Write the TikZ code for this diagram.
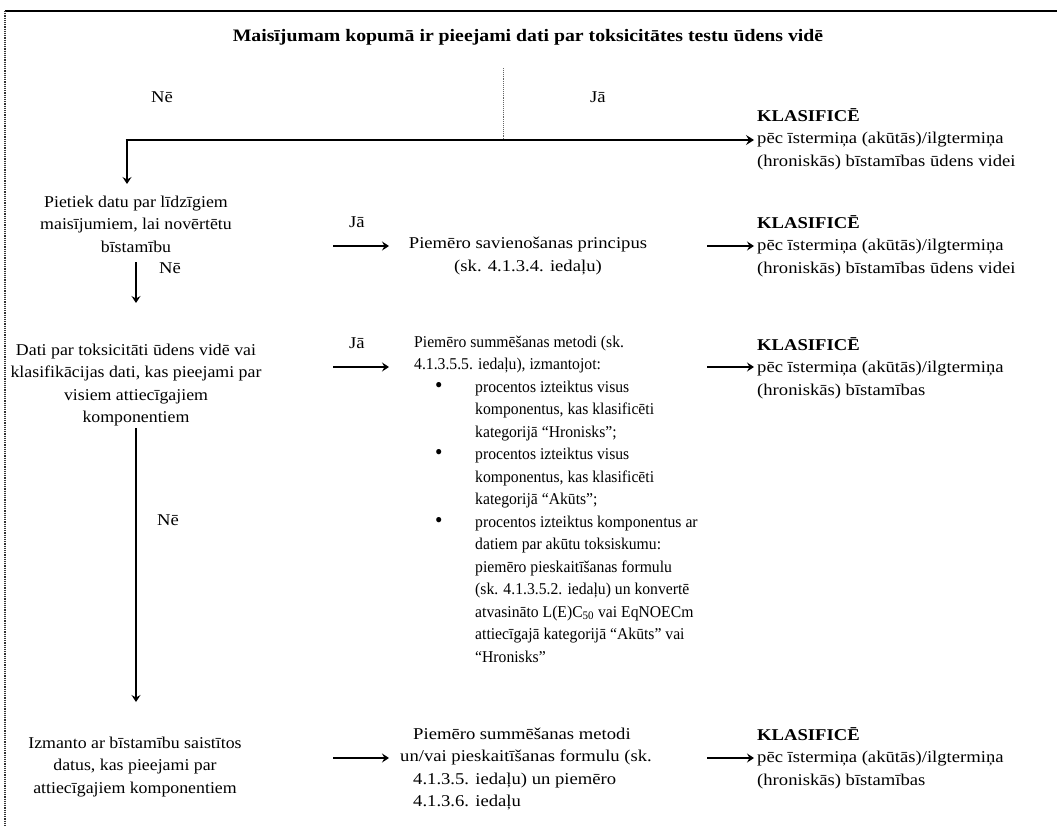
\documentclass[tikz,border=0pt]{standalone}
\usepackage{fontspec}
\setmainfont{Liberation Serif}
\newfontfamily\widefnt[FakeStretch=1.13]{Liberation Serif}
\newfontfamily\leftfnt[FakeStretch=1.08]{Liberation Serif}
\newfontfamily\narrowfnt[FakeStretch=0.95]{Liberation Serif}
\usetikzlibrary{arrows.meta,calc}
\newcommand{\mybul}{\hspace*{21pt}\makebox[40pt][l]{\scalebox{1.35}{\textbullet}}}
\newcommand{\myind}{\hspace*{61pt}}
\begin{document}
\begin{tikzpicture}[x=1pt,y=-1pt,
  txt/.style={font=\fontsize{16.5}{22.5}\selectfont\widefnt, inner sep=0pt},
  ntxt/.style={font=\fontsize{16.5}{22.5}\selectfont\narrowfnt, inner sep=0pt},
  ltxt/.style={font=\fontsize{16.5}{22.5}\selectfont\leftfnt, inner sep=0pt},
  ctr/.style={txt, align=center},
  lctr/.style={ltxt, align=center},
  lft/.style={txt, align=left, anchor=west},
  nlft/.style={ntxt, align=left, anchor=west},
  arr/.style={draw=black, line width=2pt, -{Stealth[length=7pt,width=9pt,inset=2.5pt]}},
  thickarr/.style={draw=black, line width=2.8pt, -{Stealth[length=8pt,width=10pt,inset=3pt]}},
  frame/.style={draw=black, line width=1.4pt},
  dotline/.style={draw=black!60, line width=0.9pt, densely dotted},
]
\useasboundingbox (0,0) rectangle (1057,827);
% frame
\draw[frame] (5,11) -- (1057,11);
\draw[draw=black!80, line width=1.2pt, densely dotted] (5,11) -- (5,827);

% title
\node[txt, font=\fontsize{17.5}{22.5}\selectfont\widefnt\bfseries] (title) at (528,37) {Maisījumam kopumā ir pieejami dati par toksicitātes testu ūdens vidē};
\node[txt] (ne1) at (162,97) {Nē};
\node[txt] (ja1) at (598,97) {Jā};

% left column
\node[lctr] (p1) at (136,224) {Pietiek datu par līdzīgiem\\maisījumiem, lai novērtētu\\bīstamību};
\node[lctr] (p2) at (136,385) {Dati par toksicitāti ūdens vidē vai\\klasifikācijas dati, kas pieejami par\\visiem attiecīgajiem\\komponentiem};
\node[lctr] (p3) at (135,767) {Izmanto ar bīstamību saistītos\\datus, kas pieejami par\\attiecīgajiem komponentiem};
\node[txt] (ne2) at (170,268) {Nē};
\node[txt] (ne3) at (168,520) {Nē};
\node[txt] (ja2) at (357,222) {Jā};
\node[txt] (ja3) at (357,343) {Jā};

% middle column
\node[ctr] (m1) at (528,256) {Piemēro savienošanas principus\\(sk. 4.1.3.4. iedaļu)};
\node[nlft] (m2) at (414,499) {Piemēro summēšanas metodi (sk.\\
4.1.3.5.5. iedaļu), izmantojot:\\
\mybul procentos izteiktus visus\\
\myind komponentus, kas klasificēti\\
\myind kategorijā “Hronisks”;\\
\mybul procentos izteiktus visus\\
\myind komponentus, kas klasificēti\\
\myind kategorijā “Akūts”;\\
\mybul procentos izteiktus komponentus ar\\
\myind datiem par akūtu toksiskumu:\\
\myind piemēro pieskaitīšanas formulu\\
\myind (sk. 4.1.3.5.2. iedaļu) un konvertē\\
\myind atvasināto L(E)C\textsubscript{50} vai EqNOECm\\
\myind attiecīgajā kategorijā “Akūts” vai\\
\myind “Hronisks”};
\node[lft] (m3) at (413,769) {Piemēro summēšanas metodi\\
\hspace*{-13pt}un/vai pieskaitīšanas formulu (sk.\\
4.1.3.5. iedaļu) un piemēro\\
4.1.3.6. iedaļu};

% right column
\node[lft] (k1) at (757,139) {\textbf{KLASIFICĒ}\\pēc īstermiņa (akūtās)/ilgtermiņa\\(hroniskās) bīstamības ūdens videi};
\node[lft] (k2) at (757,246) {\textbf{KLASIFICĒ}\\pēc īstermiņa (akūtās)/ilgtermiņa\\(hroniskās) bīstamības ūdens videi};
\node[lft] (k3) at (757,368) {\textbf{KLASIFICĒ}\\pēc īstermiņa (akūtās)/ilgtermiņa\\(hroniskās) bīstamības};
\node[lft] (k4) at (757,758) {\textbf{KLASIFICĒ}\\pēc īstermiņa (akūtās)/ilgtermiņa\\(hroniskās) bīstamības};

% connectors
\coordinate (q) at (503,68);
\coordinate (jn) at (503,140);
\coordinate (cl) at (127,140);
\draw[dotline] (q) -- (jn);
\draw[thickarr, shorten >=3pt] ([xshift=-1.4pt]cl) -- (jn) -- (jn -| k1.west);
\draw[arr] (cl) -- (127,184);

\draw[arr] (136,262) -- (136,303);
\draw[arr] (136,428) -- (136,702);

\draw[arr] (333,246) -- (389,246);
\draw[arr] (333,367) -- (389,367);
\draw[arr] (333,758) -- (389,758);

\draw[arr, shorten >=3pt] (707,246) -- (k2.west |- 0,246);
\draw[arr, shorten >=3pt] (707,367) -- (k3.west |- 0,367);
\draw[arr, shorten >=3pt] (707,758) -- (k4.west |- 0,758);
\end{tikzpicture}
\end{document}
